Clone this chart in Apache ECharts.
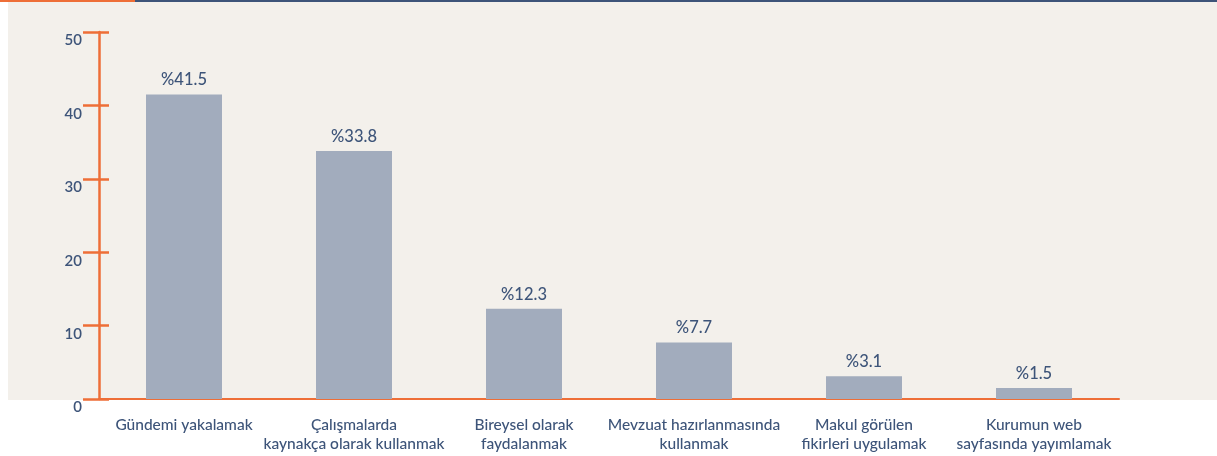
<!DOCTYPE html>
<html>
<head>
<meta charset="utf-8">
<script src="https://cdn.jsdelivr.net/npm/echarts@6/dist/echarts.min.js"></script>
<style>
  html, body { margin: 0; padding: 0; background: #ffffff; }
  #chart { width: 1217px; height: 456px; }
</style>
</head>
<body>
<div id="chart"></div>
<script>
// Categories (multi-line labels) and percentage values
const categories = [
  'Gündemi yakalamak',
  'Çalışmalarda\nkaynakça olarak kullanmak',
  'Bireysel olarak\nfaydalanmak',
  'Mevzuat hazırlanmasında\nkullanmak',
  'Makul görülen\nfikirleri uygulamak',
  'Kurumun web\nsayfasında yayımlamak'
];
const values = [41.5, 33.8, 12.3, 7.7, 3.1, 1.5];
const yTicks = [0, 10, 20, 30, 40, 50];

const ORANGE = '#ee6e37';
const NAVY = '#3d5479';
const BAR = '#a2acbd';
const PAPER = '#f3f0eb';
const FONT = 'Lato, "Open Sans", sans-serif';

const chart = echarts.init(document.getElementById('chart'));

chart.setOption({
  animation: false,
  backgroundColor: '#ffffff',
  graphic: [
    { type: 'rect', z: -10, silent: true,
      shape: { x: 8, y: 2, width: 1209, height: 398 },
      style: { fill: PAPER } },
    { type: 'rect', z: -5, silent: true,
      shape: { x: 0, y: 0, width: 135, height: 2 },
      style: { fill: ORANGE } },
    { type: 'rect', z: -5, silent: true,
      shape: { x: 135, y: 0, width: 1082, height: 2 },
      style: { fill: NAVY } }
  ],
  grid: { left: 99, right: 98, top: 32, bottom: 57, containLabel: false },
  xAxis: {
    type: 'category',
    data: categories,
    axisLine: { show: true, lineStyle: { color: ORANGE, width: 2 } },
    axisTick: { show: false },
    axisLabel: {
      color: NAVY, fontFamily: FONT, fontSize: 15.5, fontWeight: 500,
      lineHeight: 19, margin: 16, interval: 0
    }
  },
  yAxis: [
    {
      type: 'value', min: yTicks[0], max: yTicks[yTicks.length - 1], interval: 10,
      axisLine: { show: true, lineStyle: { color: ORANGE, width: 2.5 } },
      axisTick: { show: true, length: 16, lineStyle: { color: ORANGE, width: 2.5 } },
      splitLine: { show: false },
      axisLabel: {
        color: NAVY, fontFamily: FONT, fontSize: 15, fontWeight: 600,
        margin: 17, verticalAlign: 'top', padding: [1, 0, 0, 0]
      }
    },
    {
      type: 'value', min: yTicks[0], max: yTicks[yTicks.length - 1], interval: 10,
      position: 'left',
      axisLine: { show: false },
      axisTick: { show: true, inside: true, length: 10, lineStyle: { color: ORANGE, width: 2.5 } },
      splitLine: { show: false },
      axisLabel: { show: false }
    }
  ],
  series: [{
    type: 'bar',
    data: values,
    barWidth: 76,
    itemStyle: { color: BAR },
    label: {
      show: true, position: 'top', distance: 6,
      color: NAVY, fontFamily: FONT, fontSize: 16.5, fontWeight: 500,
      formatter: p => '%' + p.value
    }
  }]
});
</script>
</body>
</html>
